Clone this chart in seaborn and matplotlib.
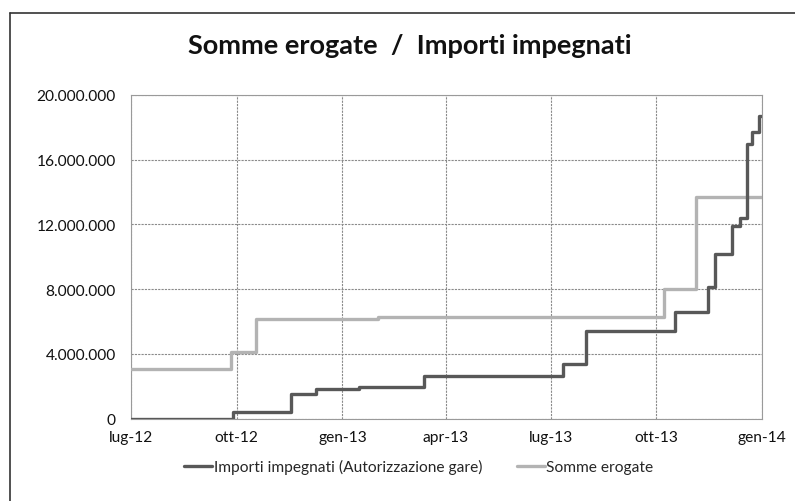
import pandas as pd
import matplotlib.pyplot as plt
import matplotlib.ticker as mticker
import seaborn as sns

# step values (euro)
dates_impegnati = ['2012-07-01', '2012-09-28', '2012-11-17', '2012-12-09', '2013-01-15',
                   '2013-03-13', '2013-07-12', '2013-08-01', '2013-10-17', '2013-11-15',
                   '2013-11-21', '2013-12-06', '2013-12-13', '2013-12-19', '2013-12-23',
                   '2013-12-29', '2013-12-31']
importi_impegnati = [0, 380000, 1500000, 1820000, 1950000,
                     2650000, 3360000, 5430000, 6600000, 8100000,
                     10200000, 11900000, 12400000, 17000000, 17700000,
                     18700000, 18700000]

dates_erogate = ['2012-07-01', '2012-09-26', '2012-10-18', '2013-02-01', '2013-10-08',
                 '2013-11-05', '2014-01-01']
somme_erogate = [3050000, 4130000, 6180000, 6280000, 8000000,
                 13700000, 13700000]

x_ticks = ['2012-07-01', '2012-10-01', '2013-01-01', '2013-04-01', '2013-07-01',
           '2013-10-01', '2014-01-01']
x_labels = ['lug-12', 'ott-12', 'gen-13', 'apr-13', 'lug-13', 'ott-13', 'gen-14']
y_ticks = [0, 4000000, 8000000, 12000000, 16000000, 20000000]

df_imp = pd.DataFrame({'Data': pd.to_datetime(dates_impegnati), 'Valore': importi_impegnati})
df_ero = pd.DataFrame({'Data': pd.to_datetime(dates_erogate), 'Valore': somme_erogate})

sns.set_style('white')
plt.rcParams['font.family'] = ['Lato', 'DejaVu Sans']

fig = plt.figure(figsize=(7.95, 5.02), dpi=100)
ax = fig.add_axes([0.1648, 0.1643, 0.7937, 0.6445])

sns.lineplot(data=df_imp, x='Data', y='Valore', ax=ax, color='#585858', lw=2.4,
             drawstyle='steps-post', label='Importi impegnati (Autorizzazione gare)', zorder=4)
sns.lineplot(data=df_ero, x='Data', y='Valore', ax=ax, color='#b3b3b3', lw=2.4,
             drawstyle='steps-post', label='Somme erogate', zorder=3)

ax.set_xlim(pd.Timestamp('2012-07-01'), pd.Timestamp('2014-01-01'))
ax.set_ylim(0, 20000000)
ax.set_xticks(pd.to_datetime(x_ticks))
ax.set_xticklabels(x_labels)
ax.set_yticks(y_ticks)
ax.yaxis.set_major_formatter(mticker.FuncFormatter(lambda v, p: f'{int(v):,}'.replace(',', '.')))
ax.tick_params(axis='both', length=0, labelsize=11.2, colors='#111111')
ax.tick_params(axis='y', pad=11)
ax.tick_params(axis='x', pad=8)
ax.set_xlabel('')
ax.set_ylabel('')

ax.grid(True, color='#8a8a8a', lw=0.8, ls=(0, (2, 1)))
for s in ax.spines.values():
    s.set_color('#9a9a9a')
    s.set_linewidth(0.8)
    s.set_linestyle((0, (2, 1)))

ax.get_legend().remove()
h, l = ax.get_legend_handles_labels()
fig.legend(h, l, loc='center', bbox_to_anchor=(0.527, 0.068), ncol=2, frameon=False,
           fontsize=11.2, handlelength=1.8, handletextpad=0.1, columnspacing=2.2)

fig.text(0.516, 0.908, 'Somme erogate  /  Importi impegnati', ha='center', va='center',
         fontsize=19.5, fontweight='bold', color='#111111')

# outer chart frame (scan shows only left and top edges)
fig.add_artist(plt.Line2D([0.012, 0.012], [0.0, 0.972], color='#333333', lw=1.2))
fig.add_artist(plt.Line2D([0.012, 1.0], [0.972, 0.972], color='#333333', lw=1.2))

fig.savefig('out.png', dpi=100)
